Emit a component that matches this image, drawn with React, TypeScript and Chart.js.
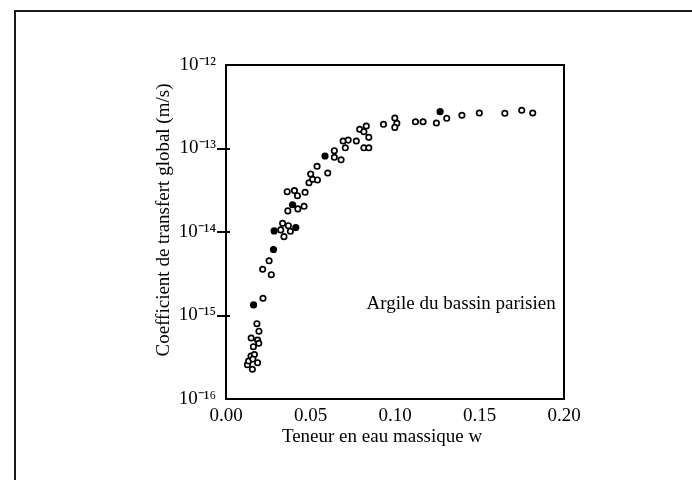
import React, { useEffect, useRef } from "react";
import { Chart, registerables } from "chart.js";

Chart.register(...registerables);

// Open (hollow) markers
const wOpen = [
  0.0127, 0.0156, 0.0134, 0.0148, 0.0168, 0.0159, 0.0187, 0.0162, 0.0149, 0.0187,
  0.0194, 0.0195, 0.0183, 0.0219, 0.0217, 0.0268, 0.0255, 0.0324, 0.0335, 0.0369,
  0.0381, 0.0343, 0.0366, 0.0425, 0.0462, 0.0362, 0.0405, 0.0423, 0.0468, 0.0491,
  0.0513, 0.0541, 0.0501, 0.0539, 0.0602, 0.0641, 0.0641, 0.0681, 0.0693, 0.0723,
  0.0706, 0.0771, 0.0791, 0.0816, 0.083, 0.0845, 0.0816, 0.0845, 0.0932, 0.0999,
  0.1011, 0.0999, 0.1121, 0.1166, 0.1245, 0.1306, 0.1396, 0.1499, 0.165, 0.175,
  0.1815,
];
const kOpen = [
  2.58e-16, 2.27e-16, 2.85e-16, 3.27e-16, 3.41e-16, 3.01e-16, 2.72e-16, 4.23e-16, 5.38e-16, 5.09e-16,
  4.65e-16, 6.49e-16, 7.98e-16, 1.61e-15, 3.58e-15, 3.08e-15, 4.52e-15, 1.06e-14, 1.27e-14, 1.19e-14,
  1.02e-14, 8.8e-15, 1.79e-14, 1.89e-14, 2.03e-14, 3.04e-14, 3.13e-14, 2.72e-14, 2.99e-14, 3.89e-14,
  4.28e-14, 4.2e-14, 4.95e-14, 6.12e-14, 5.09e-14, 9.41e-14, 7.85e-14, 7.32e-14, 1.23e-13, 1.26e-13,
  1.02e-13, 1.23e-13, 1.7e-13, 1.59e-13, 1.86e-13, 1.36e-13, 1.02e-13, 1.02e-13, 1.95e-13, 2.32e-13,
  2.0e-13, 1.79e-13, 2.09e-13, 2.09e-13, 2.02e-13, 2.3e-13, 2.5e-13, 2.66e-13, 2.64e-13, 2.87e-13,
  2.66e-13,
];

// Filled markers
const wFilled = [0.0163, 0.0281, 0.0285, 0.0413, 0.0394, 0.0586, 0.1267];
const kFilled = [1.34e-15, 6.17e-15, 1.03e-14, 1.13e-14, 2.12e-14, 8.13e-14, 2.76e-13];

const yExponents = [-12, -13, -14, -15, -16];
const xTicks = [0, 0.05, 0.1, 0.15, 0.2];

const xTitle = "Teneur en eau massique w";
const yTitle = "Coefficient de transfert global (m/s)";
const noteText = "Argile du bassin parisien";
const noteW = 0.0832;
const noteK = 1.37e-15;

const FONT = "'Liberation Serif', 'Times New Roman', serif";

const SUP: Record<string, string> = {
  "-": "\u207B", "0": "\u2070", "1": "\u00B9", "2": "\u00B2", "3": "\u00B3",
  "4": "\u2074", "5": "\u2075", "6": "\u2076", "7": "\u2077", "8": "\u2078", "9": "\u2079",
};
const sup = (n: number) => String(n).split("").map((c) => SUP[c] ?? c).join("");

const decorPlugin = {
  id: "decor",
  afterDraw(chart: any) {
    const { ctx, chartArea, scales } = chart;
    const { left, right, top, bottom } = chartArea;
    ctx.save();
    // outer page frame
    ctx.strokeStyle = "#1a1a1a";
    ctx.lineWidth = 2;
    ctx.beginPath();
    ctx.moveTo(692, 11);
    ctx.lineTo(15, 11);
    ctx.lineTo(15, 480);
    ctx.stroke();
    // plot box
    ctx.strokeStyle = "#000";
    ctx.lineWidth = 2;
    ctx.strokeRect(left, top, right - left, bottom - top);
    // short inner extension of the y tick marks
    ctx.beginPath();
    for (const e of [-13, -14, -15]) {
      const py = Math.round(scales.y.getPixelForValue(Math.pow(10, e)));
      ctx.moveTo(left, py);
      ctx.lineTo(left + 4, py);
    }
    ctx.stroke();
    // titles
    ctx.fillStyle = "#000";
    ctx.font = `19px ${FONT}`;
    ctx.textAlign = "center";
    ctx.textBaseline = "middle";
    ctx.fillText(xTitle, (left + right) / 2 - 13, bottom + 38);
    ctx.save();
    ctx.translate(left - 62, (top + bottom) / 2 - 12);
    ctx.rotate(-Math.PI / 2);
    ctx.fillText(yTitle, 0, 0);
    ctx.restore();
    // note
    ctx.textAlign = "left";
    ctx.fillText(noteText, scales.x.getPixelForValue(noteW), scales.y.getPixelForValue(noteK));
    ctx.restore();
  },
};

export default function App() {
  const ref = useRef<HTMLCanvasElement | null>(null);
  useEffect(() => {
    if (!ref.current) return;
    const openData = wOpen.map((w, i) => ({ x: w, y: kOpen[i] }));
    const filledData = wFilled.map((w, i) => ({ x: w, y: kFilled[i] }));
    const chart = new Chart(ref.current, {
      type: "scatter",
      data: {
        datasets: [
          {
            label: "open",
            data: openData,
            pointRadius: 2.7,
            pointBorderWidth: 1.7,
            pointBorderColor: "#000",
            pointBackgroundColor: "#fff",
          },
          {
            label: "filled",
            data: filledData,
            pointRadius: 2.9,
            pointBorderWidth: 1.4,
            pointBorderColor: "#000",
            pointBackgroundColor: "#000",
          },
        ],
      },
      plugins: [decorPlugin],
      options: {
        responsive: false,
        animation: false,
        devicePixelRatio: 1,
        layout: { padding: { left: 0, top: 65, right: 128, bottom: 0 } },
        plugins: { legend: { display: false }, tooltip: { enabled: false } },
        scales: {
          x: {
            type: "linear",
            min: 0,
            max: 0.2,
            afterBuildTicks: (s: any) => {
              s.ticks = xTicks.map((v) => ({ value: v }));
            },
            afterFit: (s: any) => {
              s.height = 81;
            },
            ticks: {
              callback: (v: any) => Number(v).toFixed(2),
              font: { family: FONT, size: 19 },
              color: "#000",
              padding: -2,
              maxRotation: 0,
              autoSkip: false,
            },
            grid: { display: false },
            border: { display: false },
          },
          y: {
            type: "logarithmic",
            min: 1e-16,
            max: 1e-12,
            afterBuildTicks: (s: any) => {
              s.ticks = yExponents.map((e) => ({ value: Math.pow(10, e) }));
            },
            afterFit: (s: any) => {
              s.width = 226;
            },
            ticks: {
              callback: (v: any) => "10" + sup(Math.round(Math.log10(Number(v)))),
              font: { family: FONT, size: 19 },
              color: "#000",
              padding: 1,
              autoSkip: false,
            },
            grid: {
              display: true,
              drawOnChartArea: false,
              drawTicks: true,
              tickLength: 9,
              lineWidth: 2,
              color: (c: any) => {
                const e = Math.round(Math.log10(c.tick?.value ?? 1));
                return e === -12 || e === -16 ? "rgba(0,0,0,0)" : "#000";
              },
            },
            border: { display: false },
          },
        },
      },
    });
    return () => chart.destroy();
  }, []);
  return (
    <div style={{ position: "fixed", left: 0, top: 0, width: 692, height: 480, background: "#fff" }}>
      <canvas ref={ref} width={692} height={480} style={{ width: 692, height: 480, display: "block" }} />
    </div>
  );
}
